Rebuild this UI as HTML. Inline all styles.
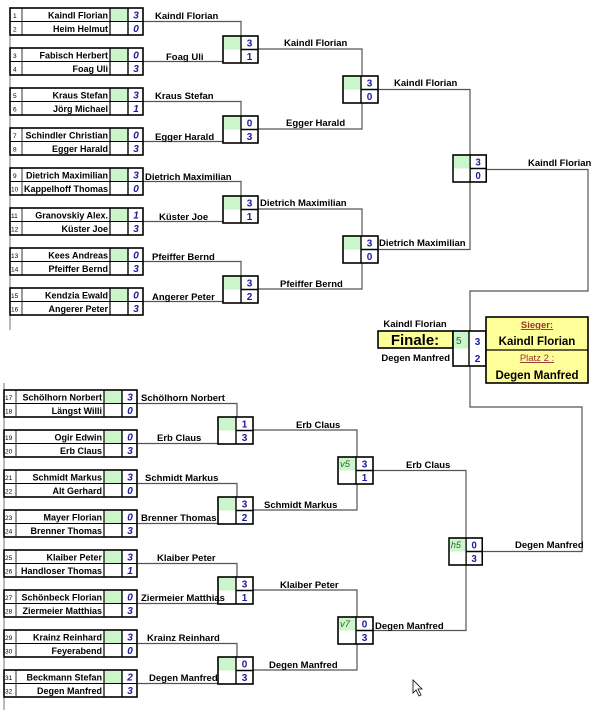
<!DOCTYPE html>
<html><head><meta charset="utf-8"><style>
html,body{margin:0;padding:0;background:#fff;}
svg{display:block;font-family:"Liberation Sans",Arial,sans-serif;}
.t{font-size:9.5px;font-weight:bold;fill:#000;}
.n{font-size:9px;font-weight:bold;text-anchor:end;}
.k{font-size:6.5px;fill:#000;}
.s{font-size:10px;font-weight:bold;font-style:italic;fill:#1a1a9a;text-anchor:middle;}
.r{font-size:10px;font-weight:bold;fill:#1a1a9a;text-anchor:middle;}
.ln{fill:none;stroke:#555;stroke-width:1.2;}
</style></head><body>
<svg width="600" height="710" viewBox="0 0 600 710" xmlns="http://www.w3.org/2000/svg">
<defs>
<g id="pf">
<rect x="100" y="0" width="18" height="13.5" fill="#ccf5cc"/>
<rect x="0" y="0" width="133" height="27" fill="none" stroke="#000" stroke-width="1.6"/>
<line x1="0" y1="13.5" x2="133" y2="13.5" stroke="#000" stroke-width="1"/>
<line x1="12" y1="0" x2="12" y2="27" stroke="#000" stroke-width="0.8"/>
<line x1="100" y1="0" x2="100" y2="27" stroke="#000" stroke-width="1.2"/>
<line x1="118" y1="0" x2="118" y2="27" stroke="#000" stroke-width="1.4"/>
</g>
<g id="bx">
<rect x="0" y="0" width="35" height="27" fill="#fff"/>
<rect x="0" y="0" width="18" height="13.5" fill="#ccf5cc"/>
<rect x="0" y="0" width="35" height="27" fill="none" stroke="#000" stroke-width="1.6"/>
<line x1="18" y1="0" x2="18" y2="27" stroke="#000" stroke-width="1.4"/>
<line x1="18" y1="13.5" x2="35" y2="13.5" stroke="#000" stroke-width="1.4"/>
</g>
</defs>

<line x1="10" y1="8" x2="10" y2="330" stroke="#777" stroke-width="1"/>
<line x1="4" y1="383" x2="4" y2="710" stroke="#777" stroke-width="1"/>

<path class="ln" d="M143 21.5H241V61.5H143"/>
<path class="ln" d="M143 101.5H241V141.5H143"/>
<path class="ln" d="M143 181.5H241V221.5H143"/>
<path class="ln" d="M143 261.5H241V301.5H143"/>
<path class="ln" d="M258 49H362V129H258"/>
<path class="ln" d="M258 209H362V289H258"/>
<path class="ln" d="M378 89.5H470V249.5H378"/>
<path class="ln" d="M486 169.5H588V291H470V331"/>
<path class="ln" d="M470 366V407H582V551.5H482"/>
<path class="ln" d="M138 403.5H237V443.5H138"/>
<path class="ln" d="M138 483.5H237V523.5H138"/>
<path class="ln" d="M138 563.5H237V603.5H138"/>
<path class="ln" d="M138 643.5H237V683.5H138"/>
<path class="ln" d="M253 430H357V510H253"/>
<path class="ln" d="M253 590H357V670H253"/>
<path class="ln" d="M373 470.5H466V630.5H373"/>

<g transform="translate(10,8)"><use href="#pf"/><text class="k" x="3" y="10">1</text><text class="k" x="3" y="23.5">2</text><text class="n" x="98" y="10.5">Kaindl Florian</text><text class="n" x="98" y="24">Heim Helmut</text><text class="s" x="126" y="10.5">3</text><text class="s" x="126" y="24">0</text></g>
<g transform="translate(10,48)"><use href="#pf"/><text class="k" x="3" y="10">3</text><text class="k" x="3" y="23.5">4</text><text class="n" x="98" y="10.5">Fabisch Herbert</text><text class="n" x="98" y="24">Foag Uli</text><text class="s" x="126" y="10.5">0</text><text class="s" x="126" y="24">3</text></g>
<g transform="translate(10,88)"><use href="#pf"/><text class="k" x="3" y="10">5</text><text class="k" x="3" y="23.5">6</text><text class="n" x="98" y="10.5">Kraus Stefan</text><text class="n" x="98" y="24">Jörg Michael</text><text class="s" x="126" y="10.5">3</text><text class="s" x="126" y="24">1</text></g>
<g transform="translate(10,128)"><use href="#pf"/><text class="k" x="3" y="10">7</text><text class="k" x="3" y="23.5">8</text><text class="n" x="98" y="10.5">Schindler Christian</text><text class="n" x="98" y="24">Egger Harald</text><text class="s" x="126" y="10.5">0</text><text class="s" x="126" y="24">3</text></g>
<g transform="translate(10,168)"><use href="#pf"/><text class="k" x="3" y="10">9</text><text class="k" x="1" y="23.5">10</text><text class="n" x="98" y="10.5">Dietrich Maximilian</text><text class="n" x="98" y="24">Kappelhoff Thomas</text><text class="s" x="126" y="10.5">3</text><text class="s" x="126" y="24">0</text></g>
<g transform="translate(10,208)"><use href="#pf"/><text class="k" x="1" y="10">11</text><text class="k" x="1" y="23.5">12</text><text class="n" x="98" y="10.5">Granovskiy Alex.</text><text class="n" x="98" y="24">Küster Joe</text><text class="s" x="126" y="10.5">1</text><text class="s" x="126" y="24">3</text></g>
<g transform="translate(10,248)"><use href="#pf"/><text class="k" x="1" y="10">13</text><text class="k" x="1" y="23.5">14</text><text class="n" x="98" y="10.5">Kees Andreas</text><text class="n" x="98" y="24">Pfeiffer Bernd</text><text class="s" x="126" y="10.5">0</text><text class="s" x="126" y="24">3</text></g>
<g transform="translate(10,288)"><use href="#pf"/><text class="k" x="1" y="10">15</text><text class="k" x="1" y="23.5">16</text><text class="n" x="98" y="10.5">Kendzia Ewald</text><text class="n" x="98" y="24">Angerer Peter</text><text class="s" x="126" y="10.5">0</text><text class="s" x="126" y="24">3</text></g>

<g transform="translate(4,390)"><use href="#pf"/><text class="k" x="1" y="10">17</text><text class="k" x="1" y="23.5">18</text><text class="n" x="98" y="10.5">Schölhorn Norbert</text><text class="n" x="98" y="24">Längst Willi</text><text class="s" x="126" y="10.5">3</text><text class="s" x="126" y="24">0</text></g>
<g transform="translate(4,430)"><use href="#pf"/><text class="k" x="1" y="10">19</text><text class="k" x="1" y="23.5">20</text><text class="n" x="98" y="10.5">Ogir Edwin</text><text class="n" x="98" y="24">Erb Claus</text><text class="s" x="126" y="10.5">0</text><text class="s" x="126" y="24">3</text></g>
<g transform="translate(4,470)"><use href="#pf"/><text class="k" x="1" y="10">21</text><text class="k" x="1" y="23.5">22</text><text class="n" x="98" y="10.5">Schmidt Markus</text><text class="n" x="98" y="24">Alt Gerhard</text><text class="s" x="126" y="10.5">3</text><text class="s" x="126" y="24">0</text></g>
<g transform="translate(4,510)"><use href="#pf"/><text class="k" x="1" y="10">23</text><text class="k" x="1" y="23.5">24</text><text class="n" x="98" y="10.5">Mayer Florian</text><text class="n" x="98" y="24">Brenner Thomas</text><text class="s" x="126" y="10.5">0</text><text class="s" x="126" y="24">3</text></g>
<g transform="translate(4,550)"><use href="#pf"/><text class="k" x="1" y="10">25</text><text class="k" x="1" y="23.5">26</text><text class="n" x="98" y="10.5">Klaiber Peter</text><text class="n" x="98" y="24">Handloser Thomas</text><text class="s" x="126" y="10.5">3</text><text class="s" x="126" y="24">1</text></g>
<g transform="translate(4,590)"><use href="#pf"/><text class="k" x="1" y="10">27</text><text class="k" x="1" y="23.5">28</text><text class="n" x="98" y="10.5">Schönbeck Florian</text><text class="n" x="98" y="24">Ziermeier Matthias</text><text class="s" x="126" y="10.5">0</text><text class="s" x="126" y="24">3</text></g>
<g transform="translate(4,630)"><use href="#pf"/><text class="k" x="1" y="10">29</text><text class="k" x="1" y="23.5">30</text><text class="n" x="98" y="10.5">Krainz Reinhard</text><text class="n" x="98" y="24">Feyerabend</text><text class="s" x="126" y="10.5">3</text><text class="s" x="126" y="24">0</text></g>
<g transform="translate(4,670)"><use href="#pf"/><text class="k" x="1" y="10">31</text><text class="k" x="1" y="23.5">32</text><text class="n" x="98" y="10.5">Beckmann Stefan</text><text class="n" x="98" y="24">Degen Manfred</text><text class="s" x="126" y="10.5">2</text><text class="s" x="126" y="24">3</text></g>

<g transform="translate(223,36)"><use href="#bx"/><text class="r" x="26.5" y="10.5">3</text><text class="r" x="26.5" y="24">1</text></g>
<g transform="translate(223,116)"><use href="#bx"/><text class="r" x="26.5" y="10.5">0</text><text class="r" x="26.5" y="24">3</text></g>
<g transform="translate(223,196)"><use href="#bx"/><text class="r" x="26.5" y="10.5">3</text><text class="r" x="26.5" y="24">1</text></g>
<g transform="translate(223,276)"><use href="#bx"/><text class="r" x="26.5" y="10.5">3</text><text class="r" x="26.5" y="24">2</text></g>
<g transform="translate(343,76)"><use href="#bx"/><text class="r" x="26.5" y="10.5">3</text><text class="r" x="26.5" y="24">0</text></g>
<g transform="translate(343,236)"><use href="#bx"/><text class="r" x="26.5" y="10.5">3</text><text class="r" x="26.5" y="24">0</text></g>
<g transform="translate(453,155) scale(0.95,1)"><use href="#bx"/><text class="r" x="26.5" y="10.5">3</text><text class="r" x="26.5" y="24">0</text></g>
<g transform="translate(218,417)"><use href="#bx"/><text class="r" x="26.5" y="10.5">1</text><text class="r" x="26.5" y="24">3</text></g>
<g transform="translate(218,497)"><use href="#bx"/><text class="r" x="26.5" y="10.5">3</text><text class="r" x="26.5" y="24">2</text></g>
<g transform="translate(218,577)"><use href="#bx"/><text class="r" x="26.5" y="10.5">3</text><text class="r" x="26.5" y="24">1</text></g>
<g transform="translate(218,657)"><use href="#bx"/><text class="r" x="26.5" y="10.5">0</text><text class="r" x="26.5" y="24">3</text></g>
<g transform="translate(338,457)"><use href="#bx"/><text x="2" y="10" font-size="9.5" font-style="italic" fill="#2a6a2a">v5</text><text class="r" x="26.5" y="10.5">3</text><text class="r" x="26.5" y="24">1</text></g>
<g transform="translate(338,617)"><use href="#bx"/><text x="2" y="10" font-size="9.5" font-style="italic" fill="#2a6a2a">v7</text><text class="r" x="26.5" y="10.5">0</text><text class="r" x="26.5" y="24">3</text></g>
<g transform="translate(449,538) scale(0.95,1)"><use href="#bx"/><text x="2" y="10" font-size="9.5" font-style="italic" fill="#2a6a2a">h5</text><text class="r" x="26.5" y="10.5">0</text><text class="r" x="26.5" y="24">3</text></g>

<rect x="378" y="331" width="75" height="17" fill="#ffff99" stroke="#000" stroke-width="1.6"/>
<text x="415" y="345" font-size="15" font-weight="bold" text-anchor="middle">Finale:</text>
<rect x="453" y="331" width="16" height="17.5" fill="#ccf5cc"/>
<rect x="453" y="331" width="33" height="35" fill="none" stroke="#000" stroke-width="1.6"/>
<line x1="469" y1="331" x2="469" y2="366" stroke="#000" stroke-width="1.4"/>
<text x="456" y="344" font-size="10" fill="#2a6a2a">5</text>
<text class="r" x="477.5" y="345">3</text>
<text class="r" x="477.5" y="362">2</text>
<text class="t" x="415" y="327" text-anchor="middle">Kaindl Florian</text>
<text class="t" x="450" y="361" text-anchor="end">Degen Manfred</text>
<rect x="486" y="317" width="102" height="66" fill="#ffff99" stroke="#000" stroke-width="1.6"/>
<line x1="486" y1="350" x2="588" y2="350" stroke="#000" stroke-width="1.2"/>
<text x="537" y="328" font-size="9.5" font-weight="bold" fill="#9a3333" text-anchor="middle" text-decoration="underline">Sieger:</text>
<text x="537" y="345" font-size="11.5" font-weight="bold" text-anchor="middle">Kaindl Florian</text>
<text x="537" y="361" font-size="9.5" fill="#9a3333" text-anchor="middle" text-decoration="underline">Platz 2 :</text>
<text x="537" y="379" font-size="11.5" font-weight="bold" text-anchor="middle">Degen Manfred</text>

<text class="t" x="155" y="19">Kaindl Florian</text>
<text class="t" x="166" y="60">Foag Uli</text>
<text class="t" x="155" y="99">Kraus Stefan</text>
<text class="t" x="155" y="140">Egger Harald</text>
<text class="t" x="145" y="180">Dietrich Maximilian</text>
<text class="t" x="159" y="220">Küster Joe</text>
<text class="t" x="152" y="260">Pfeiffer Bernd</text>
<text class="t" x="152" y="300">Angerer Peter</text>
<text class="t" x="284" y="46">Kaindl Florian</text>
<text class="t" x="286" y="126">Egger Harald</text>
<text class="t" x="260" y="206">Dietrich Maximilian</text>
<text class="t" x="280" y="287">Pfeiffer Bernd</text>
<text class="t" x="394" y="86">Kaindl Florian</text>
<text class="t" x="379" y="246">Dietrich Maximilian</text>
<text class="t" x="528" y="166">Kaindl Florian</text>
<text class="t" x="141" y="401">Schölhorn Norbert</text>
<text class="t" x="157" y="441">Erb Claus</text>
<text class="t" x="145" y="481">Schmidt Markus</text>
<text class="t" x="141" y="521">Brenner Thomas</text>
<text class="t" x="157" y="561">Klaiber Peter</text>
<text class="t" x="141" y="601">Ziermeier Matthias</text>
<text class="t" x="147" y="641">Krainz Reinhard</text>
<text class="t" x="149" y="681">Degen Manfred</text>
<text class="t" x="296" y="428">Erb Claus</text>
<text class="t" x="264" y="508">Schmidt Markus</text>
<text class="t" x="280" y="588">Klaiber Peter</text>
<text class="t" x="269" y="668">Degen Manfred</text>
<text class="t" x="406" y="468">Erb Claus</text>
<text class="t" x="375" y="629">Degen Manfred</text>
<text class="t" x="515" y="548">Degen Manfred</text>

<path d="M413 680 L413 693 L416 690 L419 696 L421 695 L418 689 L422 689 Z" fill="#fff" stroke="#000" stroke-width="0.8"/>
</svg>
</body></html>
